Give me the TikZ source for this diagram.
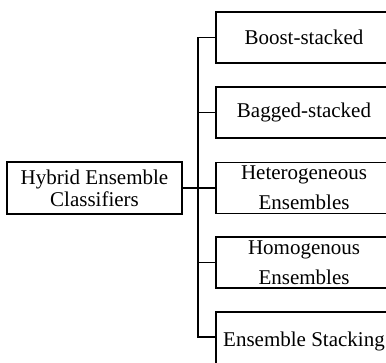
\documentclass[tikz,border=0pt]{standalone}
\usepackage{fontspec}
\setmainfont{Liberation Serif}
\tikzset{
  catbox/.style={draw, line width=1.8pt, minimum width=176pt, minimum height=51pt,
    inner sep=0pt, align=center, font=\fontsize{21}{30}\selectfont},
  rootbox/.style={draw, line width=1.8pt, minimum width=175pt, minimum height=52pt,
    inner sep=0pt, align=center, font=\fontsize{21}{22}\selectfont},
  link/.style={line width=1.6pt}
}
\begin{document}
\begin{tikzpicture}

  \newcommand\dY{75pt};
  \useasboundingbox (0pt,0pt) rectangle (386pt,-363pt);

  \node[rootbox] (hec) at (94.5pt,-188pt) {Hybrid Ensemble\\Classifiers};

  \node[catbox] (b1) at (304pt,-37.5pt) {Boost-stacked};
  \node[catbox] (b2) at (304pt,-37.5pt-\dY) {Bagged-stacked};
  \node[catbox] (b3) at (304pt,-188pt) {Heterogeneous\\Ensembles};
  \node[catbox] (b4) at (304pt,-37.5pt-3*\dY) {Homogenous\\Ensembles};
  \node[catbox, minimum height=58pt] (b5) at (304pt,-341pt) {Ensemble Stacking};

  \coordinate (trunk) at (198pt,0pt);

  \draw[link] (hec) -- (b3); %% root -> trunk
  \draw[link] (b1.west) -- (b1.west -| trunk) |- ([yshift=4pt]b5.west);
  \draw[link] (b2.west) -- (b2.west -| trunk);
  \draw[link] (b4.west) -- (b4.west -| trunk);

\end{tikzpicture}
\end{document}
